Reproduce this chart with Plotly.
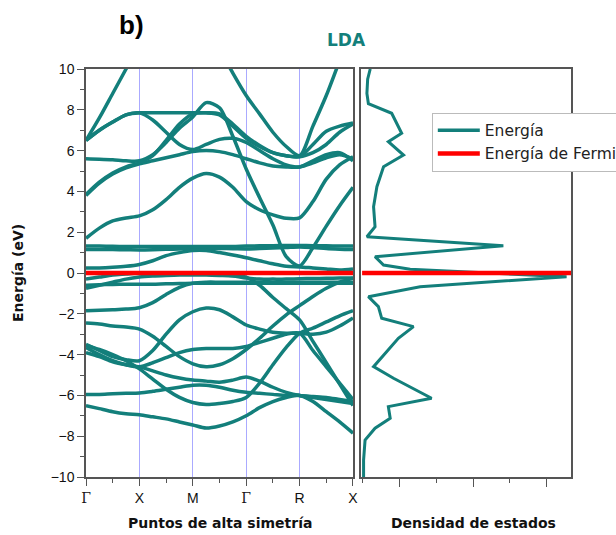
import plotly.graph_objects as go

# k-path grid (Γ=0, X=1, M=2, Γ=3, R=4, X=5)
K = [0, 0.25, 0.5, 0.75, 1, 1.25, 1.5, 1.75, 2, 2.25, 2.5, 2.75, 3, 3.25, 3.5, 3.75, 4, 4.25, 4.5, 4.75, 5]
K_TICKVALS = [0, 1, 2, 3, 4, 5]
K_TICKTEXT = ["Γ", "X", "M", "Γ", "R", "X"]
E_TICKS = [10, 8, 6, 4, 2, 0, -2, -4, -6, -8, -10]

# band energies (eV) along K
BAND_A = [6.5, 7.6, 8.8, 10.0, 11.2, 12.0, 12.5, 12.8, 12.8, 12.3, 11.0, 9.8, 8.7, 7.8, 6.9, 6.2, 5.75, 7.2, 8.7, 10.4, 12.0]
BAND_B = [6.5, 7.0, 7.4, 7.75, 7.85, 7.85, 7.85, 7.85, 7.85, 7.85, 7.75, 7.2, 6.6, 6.2, 5.9, 5.75, 5.7, 6.3, 6.95, 7.2, 7.35]
BAND_C = [5.6, 5.58, 5.55, 5.5, 5.5, 5.8, 6.4, 7.1, 7.65, 8.35, 8.1, 6.7, 5.1, 3.7, 2.35, 0.8, 0.35, 1.25, 2.3, 3.3, 4.2]
BAND_D = [6.5, 7.0, 7.4, 7.75, 7.85, 7.5, 6.9, 6.3, 6.05, 6.3, 6.55, 6.6, 6.4, 6.0, 5.6, 5.3, 5.2, 5.5, 5.8, 5.9, 5.5]
BAND_E = [3.8, 4.4, 4.85, 5.15, 5.35, 5.5, 5.65, 5.8, 5.95, 6.0, 5.95, 5.8, 5.6, 5.4, 5.25, 5.2, 5.2, 5.4, 5.65, 5.8, 5.6]
BAND_E2 = [3.85, 4.45, 4.9, 5.2, 5.4, 5.75, 6.5, 7.3, 7.8, 7.85, 7.8, 7.3, 6.7, 6.25, 5.9, 5.75, 5.7, 5.9, 6.3, 6.9, 7.3]
BAND_F = [1.7, 2.2, 2.55, 2.7, 2.8, 3.1, 3.6, 4.2, 4.65, 4.88, 4.7, 4.2, 3.5, 3.1, 2.85, 2.68, 2.7, 3.5, 4.6, 5.3, 5.7]
BAND_H1 = [1.32, 1.32, 1.31, 1.3, 1.3, 1.3, 1.3, 1.3, 1.3, 1.3, 1.3, 1.3, 1.32, 1.33, 1.34, 1.35, 1.35, 1.34, 1.33, 1.32, 1.32]
BAND_H2 = [1.15, 1.15, 1.15, 1.14, 1.13, 1.14, 1.16, 1.18, 1.2, 1.2, 1.2, 1.19, 1.18, 1.2, 1.22, 1.25, 1.28, 1.25, 1.2, 1.17, 1.15]
BAND_G = [0.25, 0.25, 0.28, 0.33, 0.42, 0.6, 0.85, 1.0, 1.1, 1.1, 1.0, 0.88, 0.75, 0.6, 0.45, 0.33, 0.3, 0.25, 0.2, 0.15, 0.2]
BAND_L1 = [-0.6, -0.58, -0.56, -0.55, -0.55, -0.55, -0.53, -0.52, -0.5, -0.5, -0.5, -0.5, -0.5, -0.5, -0.5, -0.5, -0.5, -0.5, -0.5, -0.5, -0.5]
BAND_L2 = [-0.3, -0.2, -0.1, -0.05, 0.0, 0.0, 0.0, 0.0, -0.02, -0.05, -0.08, -0.12, -0.2, -0.6, -1.2, -1.75, -2.3, -3.35, -4.4, -5.45, -6.5]
BAND_L3 = [-0.75, -0.6, -0.45, -0.3, -0.2, -0.15, -0.12, -0.1, -0.1, -0.1, -0.12, -0.15, -0.25, -0.3, -0.3, -0.3, -0.28, -0.27, -0.26, -0.25, -0.25]
BAND_L4 = [-1.85, -1.82, -1.8, -1.77, -1.7, -1.45, -1.05, -0.7, -0.5, -0.45, -0.45, -0.45, -0.45, -0.45, -0.45, -0.45, -0.45, -0.45, -0.45, -0.45, -0.45]
BAND_L5 = [-2.45, -2.5, -2.6, -2.65, -2.75, -3.1, -3.6, -4.1, -4.45, -4.6, -4.5, -4.2, -3.75, -3.2, -2.6, -2.05, -1.6, -1.15, -0.75, -0.45, -0.25]
BAND_L6 = [-3.5, -3.8, -4.1, -4.25, -4.3, -3.8, -3.0, -2.3, -1.9, -1.72, -1.8, -2.15, -2.55, -2.75, -2.9, -2.95, -2.95, -3.0, -2.9, -2.6, -2.2]
BAND_L7 = [-3.9, -4.1, -4.35, -4.5, -4.6, -4.8, -5.0, -5.15, -5.25, -5.3, -5.35, -5.25, -5.1, -5.3, -5.6, -5.85, -6.0, -6.05, -6.1, -6.2, -6.3]
BAND_L8 = [-3.65, -4.0, -4.3, -4.5, -4.6, -4.4, -4.15, -3.9, -3.75, -3.7, -3.7, -3.7, -3.6, -3.4, -3.2, -3.0, -2.95, -3.8, -4.6, -5.4, -6.2]
BAND_L9 = [-5.95, -5.95, -5.92, -5.9, -5.88, -5.8, -5.7, -5.6, -5.5, -5.5, -5.6, -5.75, -5.85, -5.9, -5.95, -6.0, -6.0, -6.1, -6.2, -6.3, -6.4]
BAND_L10 = [-3.55, -3.75, -4.0, -4.3, -4.7, -5.2, -5.7, -6.1, -6.35, -6.45, -6.4, -6.3, -6.1, -5.4, -4.5, -3.65, -2.95, -2.7, -2.4, -2.1, -1.85]
BAND_L11 = [-6.5, -6.65, -6.8, -6.9, -6.95, -7.05, -7.15, -7.3, -7.45, -7.6, -7.5, -7.3, -7.0, -6.6, -6.3, -6.1, -6.0, -6.3, -6.8, -7.3, -7.85]

# density of states (energy, DOS)
DOS_E = [10.0, 9.5, 8.8, 8.3, 7.83, 6.85, 6.44, 5.78, 5.21, 4.23, 3.25, 2.27, 1.78, 1.34, 0.8, 0.39, 0.18,
         -0.18, -0.67, -1.16, -1.65, -2.22, -2.63, -3.2, -4.59, -5.16, -6.14, -6.55, -7.12, -7.61, -8.19, -9.17, -10.0]
DOS_V = [0.22, 0.15, 0.13, 0.17, 0.8, 1.07, 0.71, 1.12, 0.58, 0.4, 0.31, 0.35, 0.13, 3.82, 0.35, 0.58, 1.3,
         5.53, 1.57, 0.17, 0.44, 0.53, 1.39, 0.98, 0.31, 0.85, 1.88, 0.71, 0.76, 0.35, 0.08, 0.04, 0.04]

FERMI = 0.0

TEAL = "#137f7b"
RED = "#ff0000"

bands = [BAND_A, BAND_B, BAND_C, BAND_D, BAND_E, BAND_E2, BAND_F, BAND_H1, BAND_H2, BAND_G,
         BAND_L1, BAND_L2, BAND_L3, BAND_L4, BAND_L5, BAND_L6, BAND_L7, BAND_L8, BAND_L9, BAND_L10, BAND_L11]

fig = go.Figure()
for i, b in enumerate(bands):
    fig.add_trace(go.Scatter(x=K, y=b, mode="lines", xaxis="x", yaxis="y",
                             line=dict(color=TEAL, width=3.5, shape="spline", smoothing=0.8),
                             name="Energía", showlegend=(i == 0), legendrank=1, hoverinfo="skip"))

fig.add_trace(go.Scatter(x=DOS_V, y=DOS_E, mode="lines", xaxis="x2", yaxis="y2",
                         line=dict(color=TEAL, width=3), showlegend=False, hoverinfo="skip"))

fig.add_trace(go.Scatter(x=[K[0], K[-1]], y=[FERMI, FERMI], mode="lines", xaxis="x", yaxis="y",
                         line=dict(color=RED, width=4.5), name="Energía de Fermi", legendrank=2,
                         hoverinfo="skip"))
fig.add_trace(go.Scatter(x=[0, 5.65], y=[FERMI, FERMI], mode="lines", xaxis="x2", yaxis="y2",
                         line=dict(color=RED, width=4.5), showlegend=False, hoverinfo="skip"))

tick_font = dict(family="Liberation Sans, Arial", size=14, color="#111")
axis_col = "#555555"

fig.update_layout(
    width=616, height=535,
    margin=dict(l=86, r=45, t=69, b=58, autoexpand=False),
    paper_bgcolor="white", plot_bgcolor="white",
    xaxis=dict(domain=[0, 0.5505], range=[0, 5], tickmode="array", tickvals=K_TICKVALS,
               ticktext=[('<span style="font-family:DejaVu Serif;font-weight:normal">%s</span>' % t)
                         if t == "Γ" else t for t in K_TICKTEXT],
               ticks="outside", ticklen=7, tickcolor=axis_col, tickfont=tick_font,
               showgrid=True, gridcolor="#aaaaff", gridwidth=1,
               showline=True, linecolor=axis_col, linewidth=1.5, mirror=True, zeroline=False,
               minor=dict(tickmode="linear", tick0=0, dtick=0.5, ticklen=4, ticks="outside",
                          tickcolor=axis_col, showgrid=False)),
    yaxis=dict(domain=[0, 1], range=[-10, 10], tickmode="array", tickvals=E_TICKS,
               ticks="outside", ticklen=7, tickcolor=axis_col, tickfont=tick_font,
               showgrid=False, showline=True, linecolor=axis_col, linewidth=1.5, mirror=True,
               zeroline=False,
               minor=dict(tickmode="linear", tick0=0, dtick=1, ticklen=4, ticks="outside",
                          tickcolor=axis_col)),
    xaxis2=dict(domain=[0.567, 1], range=[-0.03, 5.65], anchor="y2",
                tickmode="linear", tick0=1, dtick=2, showticklabels=False,
                ticks="outside", ticklen=8, tickcolor=axis_col,
                showgrid=False, showline=True, linecolor=axis_col, linewidth=1.5, mirror=True,
                zeroline=False,
                minor=dict(tickmode="linear", tick0=0, dtick=1, ticklen=4, ticks="outside",
                           tickcolor=axis_col)),
    yaxis2=dict(domain=[0, 1], range=[-10, 10], anchor="x2", showticklabels=False, ticks="",
                showgrid=False, showline=True, linecolor=axis_col, linewidth=1.5, mirror=True,
                zeroline=False),
    legend=dict(x=0.713, y=0.893, xanchor="left", yanchor="top", bgcolor="white",
                bordercolor="#bbbbbb", borderwidth=1,
                font=dict(family="DejaVu Sans, Verdana", size=15.5, color="#222"),
                tracegroupgap=0, itemwidth=42),
    showlegend=True,
)

bold = dict(family="DejaVu Sans, Verdana", size=14, color="#111")
fig.add_annotation(text="<b>b)</b>", x=0, y=0, showarrow=False,
                   font=dict(family="Liberation Sans, Arial", size=26, color="#000"))
fig.add_annotation(text="<b>LDA</b>", x=0, y=0, showarrow=False,
                   font=dict(family="DejaVu Sans, Verdana", size=17, color=TEAL))
fig.add_annotation(text="<b>Energía (eV)</b>", textangle=-90, showarrow=False,
                   font=bold, x=0, y=0)
fig.add_annotation(text="<b>Puntos de alta simetría</b>", showarrow=False, font=bold, x=0, y=0)
fig.add_annotation(text="<b>Densidad de estados</b>", showarrow=False, font=bold, x=0, y=0)

# position annotations in pixel terms converted to paper coordinates
W, H = 616, 535
L, R, T, B = 86, 45, 69, 58
pw, ph = W - L - R, H - T - B


def px2paper(px, py):
    return (px - L) / pw, (H - B - py) / ph


pos = [(131, 25), (346, 40), (18, 273), (220, 523), (473, 523)]
for ann, (px, py) in zip(fig.layout.annotations, pos):
    xx, yy = px2paper(px, py)
    ann.update(x=xx, y=yy, xref="paper", yref="paper", xanchor="center", yanchor="middle")

fig.write_html("out.html")
